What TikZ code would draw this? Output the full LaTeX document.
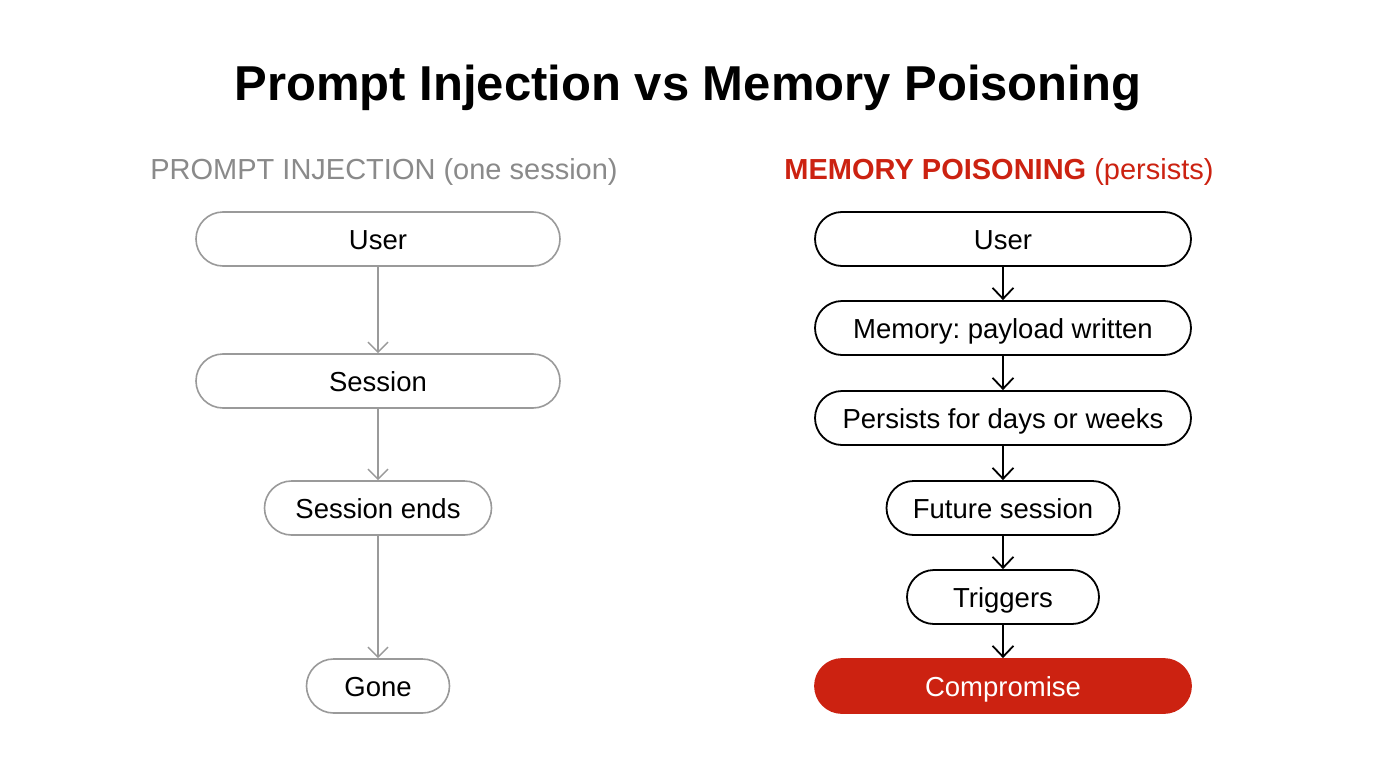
\documentclass[tikz,border=0pt]{standalone}
\usepackage{fontspec}
\setmainfont{Liberation Sans}
\usetikzlibrary{arrows.meta}
\frenchspacing
\definecolor{redc}{HTML}{CC2211}
\definecolor{grayc}{HTML}{8A8A8A}
\definecolor{grayb}{HTML}{9A9A9A}
\tikzset{
  pill/.style={draw, rounded corners=27pt, minimum height=54pt, inner sep=0pt, font=\fontsize{27.5}{32}\selectfont, text height=20pt, text depth=0pt, line width=1.8pt},
  lpill/.style={pill, draw=grayb, line width=1.6pt},
  rpill/.style={pill, draw=black},
  larr/.style={draw=grayb, line width=1.5pt, -{Straight Barb[length=10pt,width=20pt,line width=1.5pt]}},
  rarr/.style={draw=black, line width=1.8pt, -{Straight Barb[length=11pt,width=21pt,line width=1.8pt]}},
}
\begin{document}
\begin{tikzpicture}[x=1pt,y=-1pt]
\useasboundingbox[fill=white] (0,0) rectangle (1376,768);
\node (title) at (688,88) {\fontsize{49}{58}\selectfont\bfseries Prompt Injection vs Memory Poisoning};
\node[text=grayc] (lh) at (384,172) {\fontsize{29}{35}\selectfont PROMPT INJECTION (one session)};
\node[text=redc] (rh) at (999,172) {\fontsize{29}{35}\selectfont\textbf{MEMORY POISONING} (persists)};
% left
\node[lpill, minimum width=364pt] (l1) at (378,239) {User};
\node[lpill, minimum width=364pt] (l2) at (378,381) {Session};
\node[lpill, minimum width=227pt] (l3) at (378,508) {Session ends};
\node[lpill, minimum width=143pt] (l4) at (378,686) {Gone};
\draw[larr] (l1) -- (l2);
\draw[larr] (l2) -- (l3);
\draw[larr] (l3) -- (l4);
% right
\node[rpill, minimum width=376pt] (r1) at (1003,239) {User};
\node[rpill, minimum width=376pt] (r2) at (1003,328) {Memory: payload written};
\node[rpill, minimum width=376pt] (r3) at (1003,418) {Persists for days or weeks};
\node[rpill, minimum width=233pt] (r4) at (1003,508) {Future session};
\node[rpill, minimum width=192pt] (r5) at (1003,597) {Triggers};
\node[pill, draw=redc, fill=redc, text=white, minimum width=376pt] (r6) at (1003,686) {Compromise};
\draw[rarr] (r1) -- (r2);
\draw[rarr] (r2) -- (r3);
\draw[rarr] (r3) -- (r4);
\draw[rarr] (r4) -- (r5);
\draw[rarr] (r5) -- (r6);
\end{tikzpicture}
\end{document}
